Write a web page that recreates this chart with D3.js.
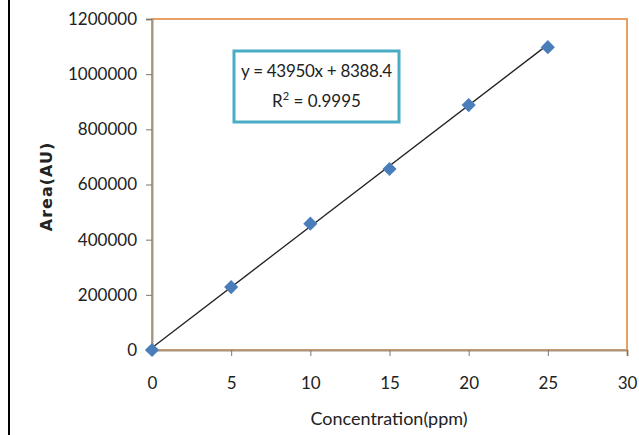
<!DOCTYPE html>
<html><head><meta charset="utf-8">
<script src="https://cdn.jsdelivr.net/npm/d3@7"></script>
<style>body{margin:0;background:#fff}svg{display:block}</style>
</head><body>
<svg id="c" width="639" height="435"></svg>
<script>
const xValues = [0, 5, 10, 15, 20, 25];
const yValues = [0, 228000, 458000, 656000, 888000, 1098000];
const xTicks = [0, 5, 10, 15, 20, 25, 30];
const yTicks = [0, 200000, 400000, 600000, 800000, 1000000, 1200000];
const slope = 43950, intercept = 8388.4;
const eqLines = ["y = 43950x + 8388.4", "R² = 0.9995"];
const xTitle = "Concentration(ppm)";
const yTitle = "Area(AU)";

const svg = d3.select("#c");
const L = 152, R = 627, T = 19, B = 350;
const x = d3.scaleLinear().domain([0, 30]).range([L, R]);
const y = d3.scaleLinear().domain([0, 1200000]).range([B, T]);
const font = "Lato, 'Open Sans', sans-serif";

// left black edge line
svg.append("rect").attr("x", 8).attr("y", 0).attr("width", 2).attr("height", 435).attr("fill", "#000");

// plot frame (orange)
svg.append("rect").attr("x", L).attr("y", T).attr("width", R - L).attr("height", B - T)
  .attr("fill", "#fff").attr("stroke", "#e8a064").attr("stroke-width", 2);

// axes
const yAx = svg.append("g").attr("transform", `translate(${L},0)`)
  .call(d3.axisLeft(y).tickValues(yTicks).tickFormat(d3.format("d")).tickSize(6).tickPadding(9));
const xAx = svg.append("g").attr("transform", `translate(0,${B})`)
  .call(d3.axisBottom(x).tickValues(xTicks).tickFormat(d3.format("d")).tickSize(6).tickPadding(21));
[yAx, xAx].forEach(g => {
  g.select(".domain").attr("stroke", "#a8947c").attr("stroke-width", 2);
  g.selectAll(".tick line").attr("stroke", "#777");
  g.selectAll("text").attr("font-family", font).attr("font-size", 17).attr("fill", "#222");
});

// trendline
svg.append("line")
  .attr("x1", x(0)).attr("y1", y(intercept))
  .attr("x2", x(25)).attr("y2", y(slope * 25 + intercept))
  .attr("stroke", "#222").attr("stroke-width", 1.3);

// points (square rotated 45° = Excel diamond)
const diamond = d3.symbol().type(d3.symbolSquare).size(100);
svg.selectAll(".pt").data(xValues).join("path")
  .attr("class", "pt")
  .attr("d", diamond)
  .attr("transform", (d, i) => `translate(${x(d)},${y(yValues[i])}) rotate(45)`)
  .attr("fill", "#4a7ebb");

// equation box
const bx = 234, by = 51, bw = 165, bh = 71;
svg.append("rect").attr("x", bx).attr("y", by).attr("width", bw).attr("height", bh)
  .attr("fill", "#fff").attr("stroke", "#4bacc6").attr("stroke-width", 3);
svg.append("text").attr("x", bx + bw / 2).attr("y", by + 26).attr("text-anchor", "middle")
  .attr("font-family", font).attr("font-size", 17).attr("letter-spacing", -0.3).attr("fill", "#222").text(eqLines[0]);
const r2 = svg.append("text").attr("x", bx + bw / 2).attr("y", by + 56).attr("text-anchor", "middle")
  .attr("font-family", font).attr("font-size", 17).attr("fill", "#222");
r2.append("tspan").text("R");
r2.append("tspan").attr("font-size", 11).attr("dy", -7).text("2");
r2.append("tspan").attr("dy", 7).text(eqLines[1].replace("R² ", " "));

// axis titles
svg.append("text").attr("x", 389).attr("y", 425).attr("text-anchor", "middle")
  .attr("font-family", font).attr("font-size", 18).attr("fill", "#222").text(xTitle);
svg.append("text").attr("transform", `translate(52,${(T + B) / 2 + 2}) rotate(-90)`)
  .attr("text-anchor", "middle").attr("font-family", "'DejaVu Sans', sans-serif").attr("font-weight", "bold")
  .attr("font-size", 16).attr("letter-spacing", 1).attr("fill", "#222").text(yTitle);
</script>
</body></html>
